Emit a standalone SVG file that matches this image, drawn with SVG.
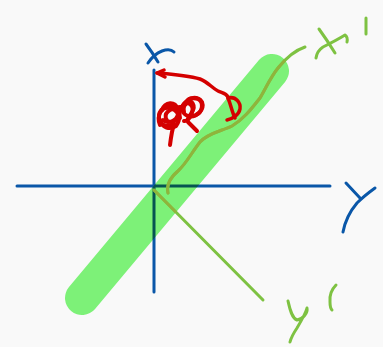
<svg xmlns="http://www.w3.org/2000/svg" width="383" height="347" viewBox="0 0 383 347">
  <style>
    .ink { fill: none; stroke-linecap: round; stroke-linejoin: round; }
    .blue { stroke: #0a57a8; stroke-width: 3; }
    .green { stroke: #7ec242; stroke-width: 3; }
    .olive { stroke: #8fb43c; stroke-width: 3; }
    .red { stroke: #d40000; stroke-width: 3.5; }
  </style>
  <defs>
    <clipPath id="band">
      <polygon points="95,308.9 285,81.9 259,60.1 69,287.1"/>
      <circle cx="82" cy="298" r="17"/>
      <circle cx="272" cy="71" r="17"/>
    </clipPath>
  </defs>
  <rect width="383" height="347" fill="#f9f9f9"/>

  <g id="axes-xy">
    <path class="ink blue" d="M17,186 L330,186"/>
    <path class="ink blue" d="M154,70 L154,292"/>
  </g>
  <g id="label-X">
    <path class="ink blue" d="M146,44 Q152,52 158,62"/>
    <path class="ink blue" d="M148,63 Q154,54 162,51 Q170,48 174,52"/>
  </g>
  <g id="label-Y">
    <path class="ink blue" d="M346,183 L360,198"/>
    <path class="ink blue" d="M375,188 Q364,196 357,203 Q346,216 343,232"/>
  </g>

  <g id="highlight">
    <path d="M82,298 L272,71" fill="none" stroke="#80f77b" stroke-width="34" stroke-linecap="round" style="mix-blend-mode:multiply"/>
  </g>

  <g id="connectors">
    <path id="x-prime-axis" class="ink green" d="M168,193 C166,184 172,176 178,171 C186,164 192,152 200,142 C208,133 222,131 232,126 C244,119 252,108 260,98 C266,88 270,78 278,68 C286,58 296,50 305,47"/>
    <path id="y-prime-axis" class="ink green" d="M154,190 L263,300"/>
    <g clip-path="url(#band)">
      <path class="ink olive" d="M168,193 C166,184 172,176 178,171 C186,164 192,152 200,142 C208,133 222,131 232,126 C244,119 252,108 260,98 C266,88 270,78 278,68 C286,58 296,50 305,47"/>
      <path class="ink olive" d="M154,190 L263,300"/>
    </g>
    <g id="rotation-arrow">
      <path class="ink red" d="M157,73 C170,74 190,76 200,79 C208,82 212,88 218,91 C222,93 226,93 228,97"/>
      <path class="ink red" d="M228,98 C236,96 241,103 240,109 C239,115 232,119 227,120"/>
      <path class="ink red" d="M228,98 C231,105 232,112 235,118"/>
      <path class="ink red" d="M164,70 L157,73 L165,77"/>
    </g>
  </g>

  <g id="label-x-prime">
    <path class="ink green" d="M319,29 Q327,40 335,53"/>
    <path class="ink green" d="M316,58 Q317,51 323,47 Q337,40 345,35 Q348,37 347,42"/>
    <path class="ink green" d="M366,18 L366,34"/>
  </g>
  <g id="label-y-prime">
    <path class="ink green" d="M288,301 C290,310 292,318 297,320 C303,319 308,313 307,308 C306,312 303,318 297,328 C293,334 291,338 290,342"/>
    <path class="ink green" d="M336,285 Q329,292 330,302 Q330,308 332,310"/>
  </g>

  <g id="scribble">
    <path class="ink red" style="stroke-width:4" d="M170,145 C171,137 172,130 174,124 C168,128 160,126 159,118 C158,110 166,104 174,106 C182,108 180,120 172,122 C165,123 163,114 170,110 C178,106 186,108 187,102 C188,97 198,96 202,102 C205,110 196,118 188,116 C182,114 180,106 186,102 C192,99 196,106 192,112 C190,116 186,120 188,122 L197,131"/>
    <path class="ink red" style="stroke-width:4" d="M162,110 C164,102 176,100 178,110 C180,120 168,125 163,120"/>
    <path class="ink red" style="stroke-width:4" d="M180,118 C178,110 184,100 190,104 C196,108 190,122 184,121"/>
    <path class="ink red" style="stroke-width:4" d="M160,125 C156,115 162,106 170,108 C178,110 182,118 176,126 C170,130 162,128 160,120"/>
    <path class="ink red" style="stroke-width:4" d="M184,112 C182,102 190,96 198,99 C204,102 203,112 196,115"/>
  </g>
</svg>
